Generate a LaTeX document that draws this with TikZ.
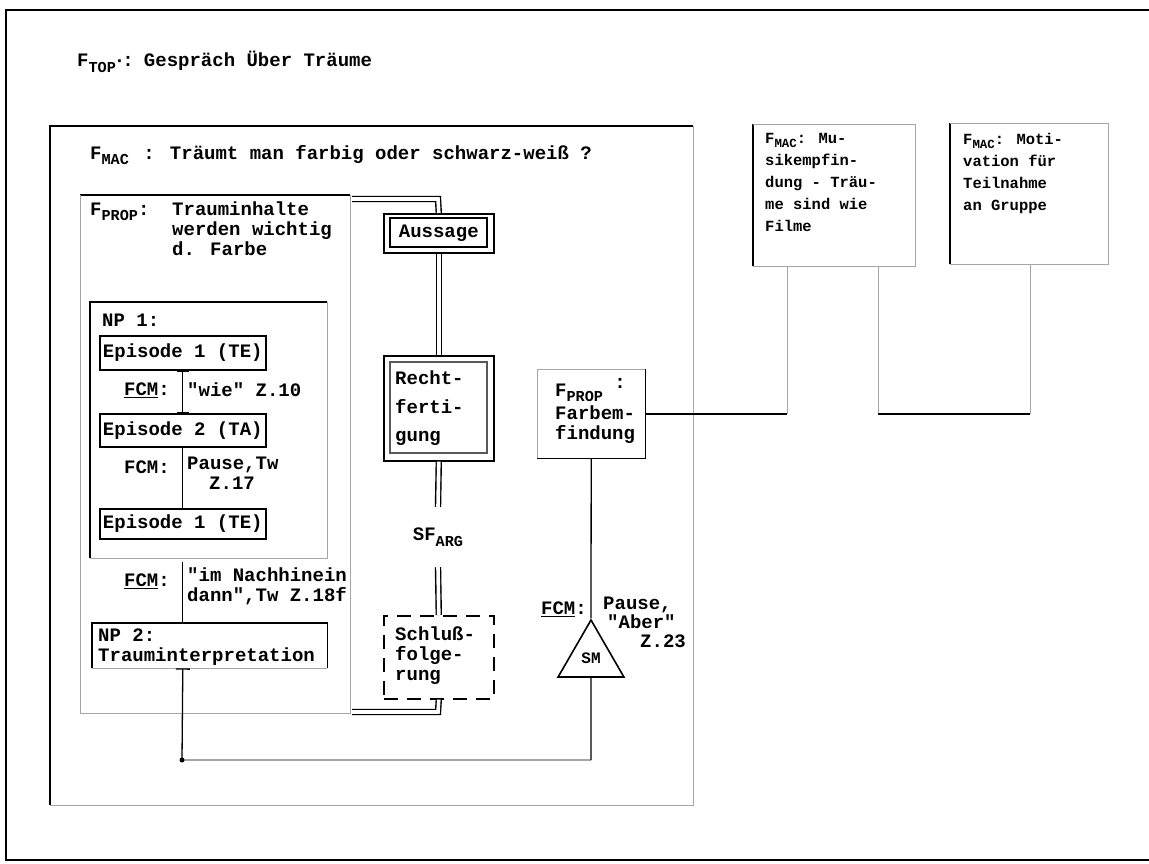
\documentclass[tikz,border=0pt]{standalone}
\usepackage{fontspec}
\setmainfont{Liberation Mono}
\usetikzlibrary{shapes.geometric,arrows.meta,calc}
\newcommand\mfnt{\fontsize{19}{20}\selectfont\bfseries}
\newcommand\rfnt{\fontsize{15.5}{22}\selectfont\bfseries}
\newcommand\sbx[1]{\raisebox{-0.55ex}{\scalebox{0.8}{#1}}}
\newcommand\qd{\textquotedbl}
\begin{document}
\begin{tikzpicture}[x=1pt,y=-1pt,
  blk/.style={line width=1.8pt,black},
  thn/.style={line width=1.3pt,black},
  gry/.style={line width=0.9pt,black!35},
  dbl/.style={double=white,double distance=3.6pt,line width=1.4pt,black},
  bx/.style={rectangle,inner sep=0pt,anchor=north west,font=\mfnt},
  txt/.style={inner sep=0pt,font=\mfnt,align=left},
  rtxt/.style={inner sep=0pt,font=\rfnt,align=left},
  epbox/.style={bx,draw,line width=1.6pt,minimum width=166pt},
  capped/.style={arrows={Bar[width=12pt]-Bar[width=12pt]}}
]
\useasboundingbox (0,0) rectangle (1149,863);
\fill[white] (0,0) rectangle (1149,863);

% outer frame
\draw[blk] (1149,10) -- (6,10) -- (6,860) -- (1149,860);

% F_TOP
\node[txt,anchor=west] (ftop) at (77,62) {F\sbx{TOP}\hspace{-2pt}·\hspace{-3pt}:\hspace{-5pt} Gespräch Über Träume};

% F_MAC
\node[bx,minimum width=643pt,minimum height=679pt] (mac) at (50,126) {};
\draw[blk] (mac.south west) -- (mac.north west) -- (mac.north east);
\draw[gry] (mac.north east) -- (mac.south east) -- (mac.south west);
\node[txt,anchor=west] (mactxt) at (90,155) {F\sbx{MAC}\hspace{3pt} : Träumt man farbig oder schwarz-weiß ?};

% F_PROP
\node[bx,minimum width=270pt,minimum height=518pt] (prop) at (80,195) {};
\draw[blk] (prop.north west) -- (prop.north east);
\draw[gry] (prop.north east) -- (prop.south east) -- (prop.south west) -- (prop.north west);
\node[txt,anchor=west] (proplab) at (90,212) {F\sbx{PROP}:};
\node[txt,anchor=north west] (proptxt) at (172,202) {Trauminhalte\\werden wichtig\\d. Farbe};

% NP 1
\node[bx,minimum width=237pt,minimum height=256pt] (np1) at (90,302) {};
\draw[blk] (np1.south west) -- (np1.north west) -- (np1.north east);
\draw[gry] (np1.north east) -- (np1.south east) -- (np1.south west);
\node[txt,anchor=west] (np1lab) at (102,320) {NP 1:};

\node[epbox,minimum height=34pt] (ep1) at (99,335) {Episode 1 (TE)};
\node[epbox,minimum height=33pt] (ep2) at (99,413) {Episode 2 (TA)};
\node[epbox,minimum height=30pt] (ep3) at (99,508) {Episode 1 (TE)};

\draw[thn,capped] (ep1.south) -- (ep2.north);
\node[txt,anchor=east] (fcm1) at (170,390) {\underline{FCM}:};
\node[txt,anchor=west] (fcm1t) at (187,390) {\qd wie\qd{} Z.10};

\draw[thn] (ep2.south) -- (ep3.north);
\node[txt,anchor=east] (fcm2) at (170,467) {FCM:};
\node[txt,anchor=north west] (fcm2t) at (187,457) {Pause,Tw\\\hspace*{22pt}Z.17};

% NP 2
\node[bx,minimum width=235pt,minimum height=45pt] (np2) at (92,623) {};
\draw[blk] (np2.south west) -- (np2.north west) -- (np2.north east) -- (np2.south east);
\draw[gry] (np2.south east) -- (np2.south west);
\node[txt,anchor=north west] (np2t) at (98,629) {NP 2:\\Trauminterpretation};

\draw[thn] (ep3.south |- np1.south) ++(0,4) -- (ep3.south |- np2.north);
\node[txt,anchor=east] (fcm3) at (170,581) {\underline{FCM}:};
\node[txt,anchor=north west] (fcm3t) at (187,568) {\qd im Nachhinein\\dann\qd,Tw Z.18f};

% argumentation column
\node[bx,draw,line width=1.6pt,minimum width=110pt,minimum height=39pt] (aus) at (383,213) {Aussage};
\draw[line width=1.1pt] (390,218) rectangle (487,247);
\coordinate (a0) at (352,199);
\coordinate (a1) at (438,199);
\draw[dbl] (a0) -- (a1) -- (aus.north);

\node[bx,draw,line width=1.6pt,minimum width=110pt,minimum height=105pt] (rec) at (383,355) {};
\draw[line width=1.1pt,black!65] (390,362) rectangle (487,453);
\node[txt,anchor=north west,font=\fontsize{19}{28.5}\selectfont\bfseries] (rect) at (395,371) {Recht-\\ferti-\\gung};
\draw[dbl] (aus.south) -- (rec.north);

\node[inner sep=0pt,minimum height=60pt,font=\mfnt] (sfarg) at (438,537) {SF\sbx{ARG}};
\node[bx,draw,line width=1.6pt,dash pattern=on 14pt off 9pt,minimum width=110pt,minimum height=83pt] (sch) at (383,615) {};
\node[txt,anchor=north west] (scht) at (395,627) {Schluß-\\folge-\\rung};
\draw[dbl] (rec.south) -- (sfarg.north);
\draw[dbl] (sfarg.south) -- (sch.north);
\coordinate (s1) at (438,712);
\coordinate (s2) at (352,712);
\draw[dbl] (sch.south) -- (s1) -- (s2);

% F_PROP Farbempfindung
\node[bx,minimum width=108pt,minimum height=89pt] (farb) at (537,369) {};
\draw[gry] (farb.south west) -- (farb.north west) -- (farb.north east);
\draw[blk] (farb.north east) -- (farb.south east) -- (farb.south west);
\node[txt,anchor=north west] (farbt) at (555,378) {F\sbx{PROP}\raisebox{0.8ex}{ :}\\[3pt]Farbem-\\findung};

% SM triangle
\node[regular polygon,regular polygon sides=3,draw,line width=1.6pt,minimum size=76pt,inner sep=0pt,font=\fontsize{16}{16}\selectfont\bfseries] (sm) at (591,658) {SM};
\draw[thn] (farb.south) -- (sm.north);
\node[txt,anchor=east] (fcm4) at (587,609) {\underline{FCM}:};
\node[txt,anchor=north west,font=\fontsize{19}{19}\selectfont\bfseries] (fcm4t) at (603,597) {Pause,\\\hspace*{4pt}\qd Aber\qd\\\hspace*{37pt}Z.23};

% bottom connector NP2 -> SM
\coordinate (c1) at (182,760);
\coordinate (c2) at (591,760);
\draw[thn,arrows={Bar[width=14pt]-}] (ep3.south |- np2.south) -- (c1);
\draw[gry,line width=1.1pt] (c1) -- (c2);
\draw[thn] (c2) -- (sm.south);
\fill (c1) circle (2.5pt);

% right F_MAC boxes
\node[bx,minimum width=162pt,minimum height=142pt] (musik) at (753,124) {};
\draw[blk] (musik.south west) -- (musik.north west);
\draw[gry] (musik.north west) -- (musik.north east) -- (musik.south east) -- (musik.south west);
\node[rtxt,anchor=north west] (musikt) at (765,133) {F\sbx{MAC}: Mu-\\sikempfin-\\dung - Träu-\\me sind wie\\Filme};

\node[bx,minimum width=158pt,minimum height=141pt] (moti) at (950,123) {};
\draw[blk] (moti.south west) -- (moti.north west);
\draw[gry] (moti.north west) -- (moti.north east) -- (moti.south east) -- (moti.south west);
\node[rtxt,anchor=north west] (motit) at (963,133) {F\sbx{MAC}: Moti-\\vation für\\Teilnahme\\an Gruppe};

% connectors to the right boxes
\coordinate (mk1) at ($(musik.south west)+(34,0)$);
\coordinate (mk2) at ($(musik.south west)+(125,0)$);
\coordinate (mo1) at ($(moti.south west)+(80,0)$);
\draw[blk] (farb.east) -- (farb.east -| mk1);
\draw[gry] (farb.east -| mk1) -- (mk1);
\draw[gry] (mk2) -- (farb.east -| mk2);
\draw[blk] (farb.east -| mk2) -- (farb.east -| mo1);
\draw[gry] (farb.east -| mo1) -- (mo1);
\end{tikzpicture}
\end{document}
